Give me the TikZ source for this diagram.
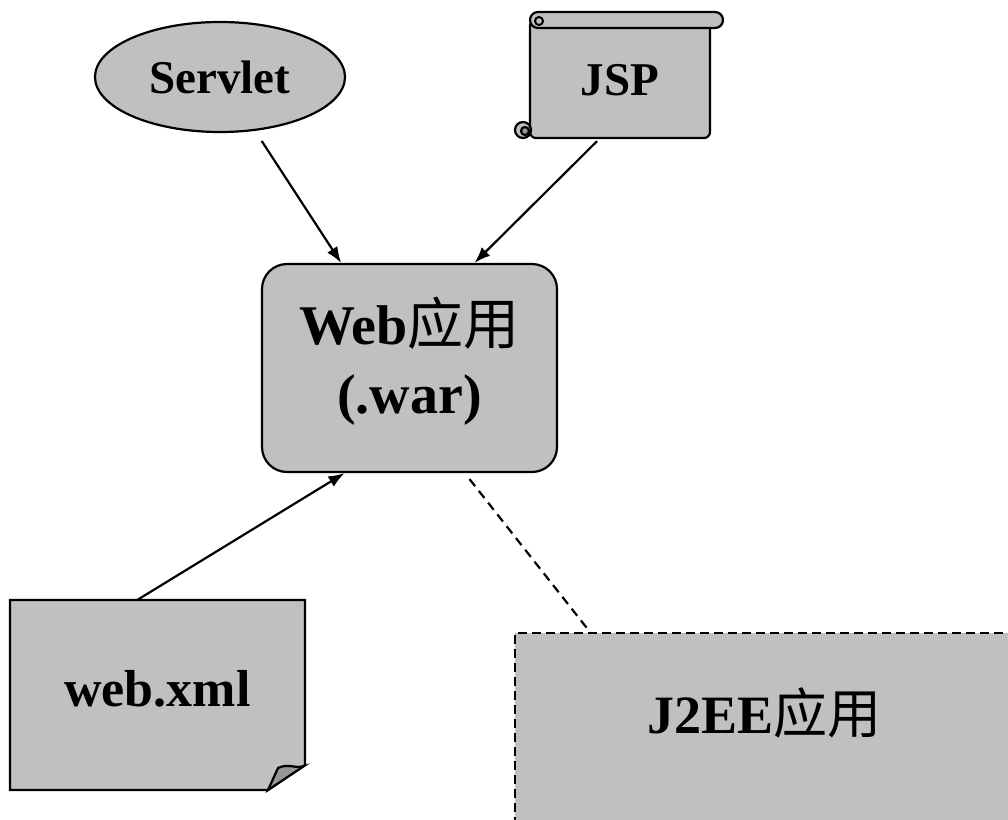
\documentclass[tikz,border=0pt]{standalone}
\usepackage{fontspec}
\setmainfont{Liberation Serif}
\newfontfamily\cjk{Noto Sans CJK SC}
\usetikzlibrary{shapes.geometric, arrows.meta}
\definecolor{boxgray}{HTML}{C0C0C0}
\definecolor{foldgray}{HTML}{969696}

\begin{document}
\begin{tikzpicture}[x=1pt, y=-1pt,
		every node/.style={font=\fontsize{47}{58}\selectfont\bfseries},
		part/.style={fill=boxgray, draw, line width=2.2pt},
		link/.style={-{Latex[length=16pt,width=12pt]}, line width=2.2pt}]
	\useasboundingbox (0,0) rectangle (1008,819);

	% scroll behind JSP
	\filldraw[part, rounded corners=6pt] (530,20) -- (530,138) -- (710,138) -- (710,20) -- cycle;
	\filldraw[part, rounded corners=8pt] (530,12) rectangle (723,28);
	\draw[line width=2pt] (539,21) circle[radius=4pt];
	\filldraw[part] (523,130) circle[radius=8pt];
	\filldraw[part, fill=foldgray] (525,131) circle[radius=4pt];

	% sheet behind web.xml
	\filldraw[part] (10,600) -- (305,600) -- (305,765) -- (268,790) -- (10,790) -- cycle;
	\filldraw[part, fill=foldgray] (268,790) -- (278,768) .. controls (288,763) and (296,769) .. (304,766) -- cycle;

	\node (servlet)[part, ellipse, minimum width=250pt, minimum height=110pt] at (220,77) {Servlet};
	\node (jsp)[minimum width=180pt, minimum height=116pt] at (620,80) {JSP};
	\node (web)[part, rounded corners=25pt, minimum width=295pt, minimum height=208pt, align=center, text depth=25pt, font=\fontsize{56}{66}\selectfont\bfseries] at (409.5,368) {Web{\cjk\mdseries 应用}\\[3pt](.war)};
	\node (webxml)[minimum width=295pt, minimum height=190pt, text depth=14pt, font=\fontsize{52}{60}\selectfont\bfseries] at (157.5,695) {web.xml};
	\node (j2ee)[part, dashed, dash pattern=on 9pt off 5pt, anchor=north west, minimum width=498pt, minimum height=220pt, text height=38pt, text depth=58pt, font=\fontsize{54}{64}\selectfont\bfseries] at (514,632) {J2EE{\cjk\mdseries 应用}};

	\draw[link, shorten <=12pt] (servlet) -- (web);
	\draw[link] ([xshift=-23pt, yshift=-3pt]jsp.south) -- ([xshift=65pt]web.north);
	\draw[link] ([xshift=-20pt]webxml.north) -- ([xshift=-65pt]web.south);
	\draw[line width=2.2pt, dash pattern=on 9pt off 6pt] ([xshift=60pt, yshift=-6pt]web.south) -- ([xshift=76pt]j2ee.north west);
\end{tikzpicture}
\end{document}
